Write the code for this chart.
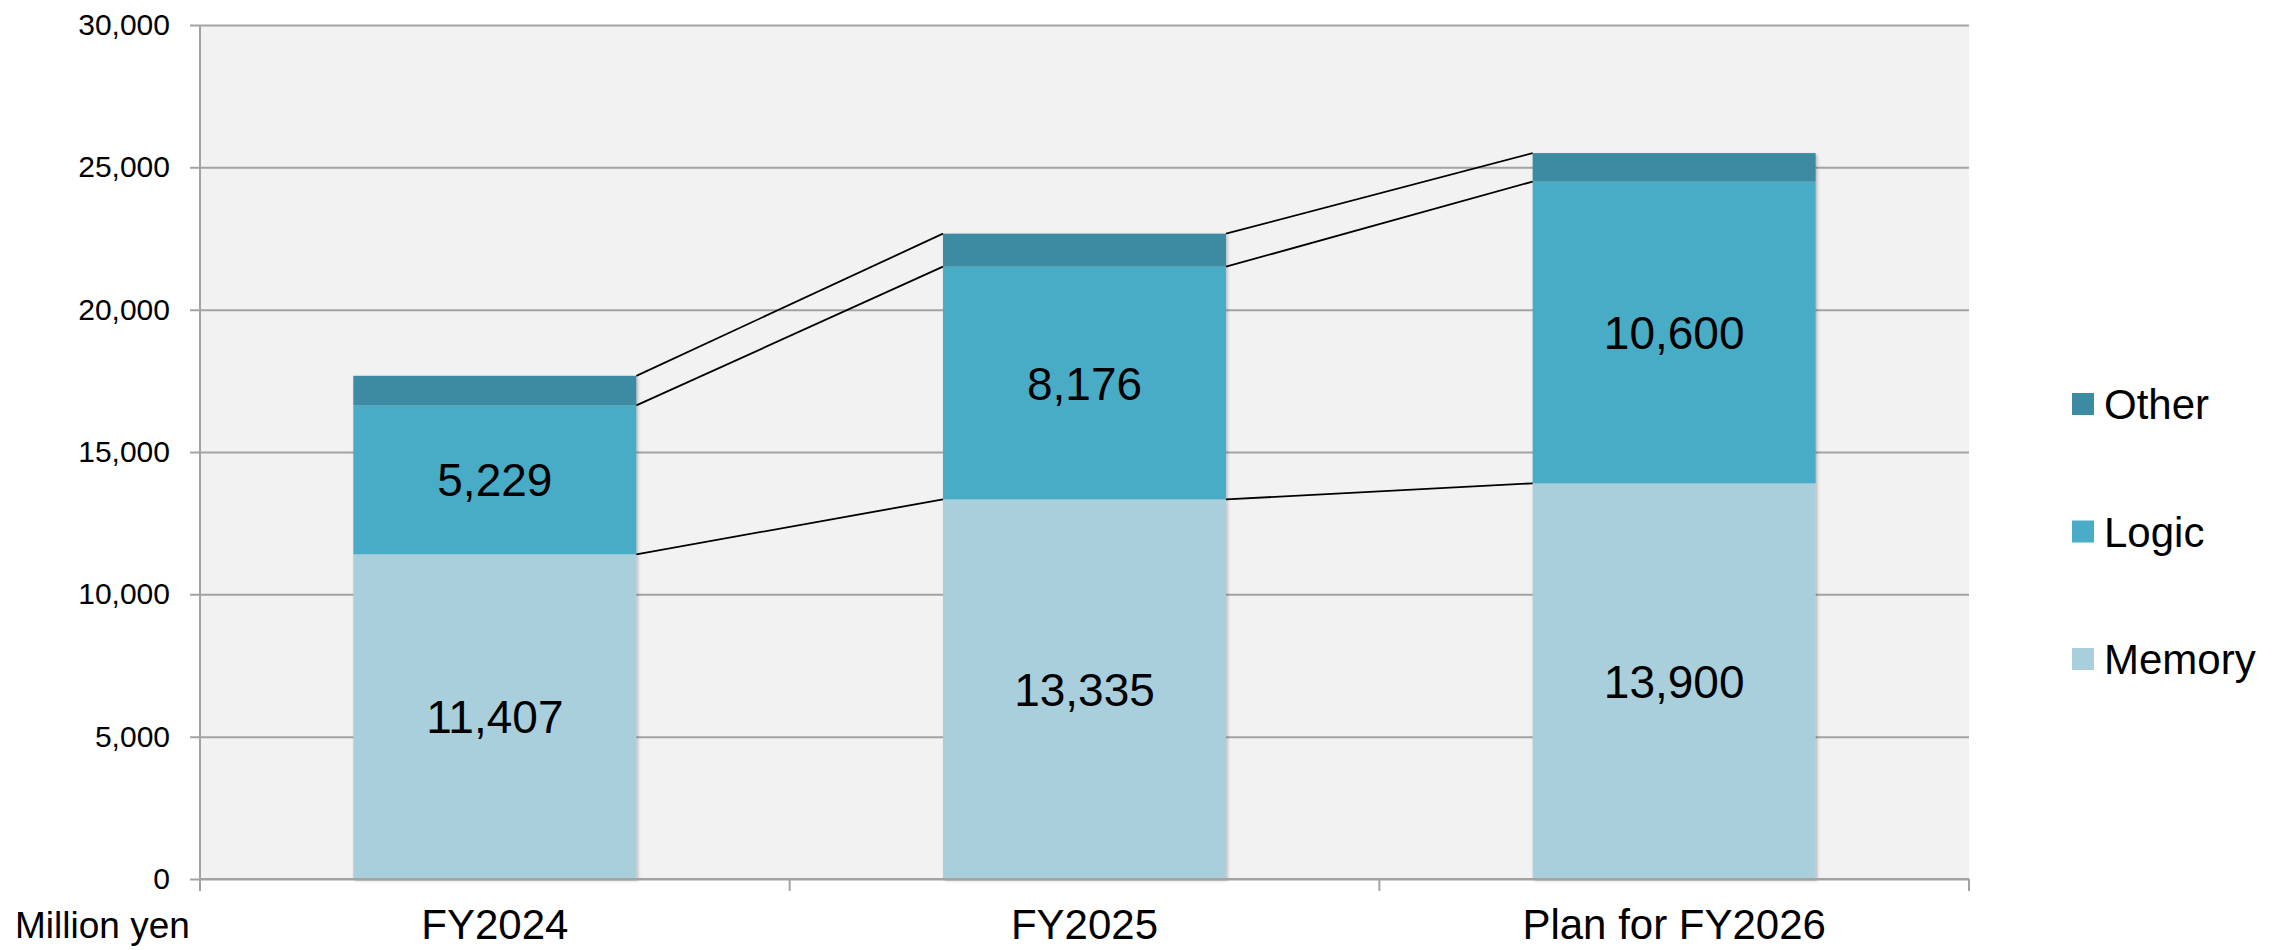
<!DOCTYPE html>
<html>
<head>
<meta charset="utf-8">
<script src="https://cdn.jsdelivr.net/npm/d3@7"></script>
<style>
  body { margin: 0; background: #fff; }
  text { font-family: "Liberation Sans", Arial, sans-serif; fill: #000; }
</style>
</head>
<body>
<div id="chart"></div>
<script>
const categories = ["FY2024", "FY2025", "Plan for FY2026"];
const memory = [11407, 13335, 13900];
const logic = [5229, 8176, 10600];
const other = [1040, 1160, 1000];
const seriesKeys = ["Memory", "Logic", "Other"];
const yTicks = [0, 5000, 10000, 15000, 20000, 25000, 30000];
const unitLabel = "Million yen";

const width = 2282,
  height = 950;
const margin = { top: 25, right: 313, bottom: 71, left: 200 };

const colors = d3
  .scaleOrdinal()
  .domain(seriesKeys)
  .range(["#a9cfdd", "#4aacc6", "#3d8ba3"]);

// table for the stack layout
const rows = categories.map((c, i) => ({
  category: c,
  Memory: memory[i],
  Logic: logic[i],
  Other: other[i],
}));
const stacked = d3.stack().keys(seriesKeys)(rows);

const x = d3
  .scaleBand()
  .domain(categories)
  .range([margin.left, width - margin.right])
  .paddingInner(0.52)
  .paddingOuter(0.26);

const y = d3
  .scaleLinear()
  .domain([0, 30000])
  .range([height - margin.bottom, margin.top]);

const svg = d3
  .select("#chart")
  .append("svg")
  .attr("width", width)
  .attr("height", height);

const defs = svg.append("defs");
defs
  .append("filter")
  .attr("id", "shadow")
  .attr("x", "-5%")
  .attr("y", "-5%")
  .attr("width", "115%")
  .attr("height", "115%")
  .append("feDropShadow")
  .attr("dx", 1.5)
  .attr("dy", 1.5)
  .attr("stdDeviation", 1.5)
  .attr("flood-color", "#000")
  .attr("flood-opacity", 0.25);

// plot background
svg
  .append("rect")
  .attr("x", margin.left)
  .attr("y", y(30000))
  .attr("width", width - margin.right - margin.left)
  .attr("height", y(0) - y(30000))
  .attr("fill", "#f2f2f2");

// gridlines + y axis
const yAxis = svg
  .append("g")
  .attr("transform", "translate(" + margin.left + ",0)")
  .call(
    d3
      .axisLeft(y)
      .tickValues(yTicks)
      .tickSize(-(width - margin.right - margin.left))
      .tickPadding(30)
      .tickFormat(d3.format(","))
  );
yAxis.select(".domain").remove();
yAxis
  .selectAll(".tick line")
  .attr("x1", -10)
  .attr("stroke", "#a3a3a3")
  .attr("stroke-width", 2);
yAxis
  .selectAll(".tick text")
  .attr("font-size", 30)
  .attr("font-family", "Liberation Sans, Arial, sans-serif")
  .attr("fill", "#000");

// left axis line
svg
  .append("line")
  .attr("x1", margin.left)
  .attr("x2", margin.left)
  .attr("y1", y(30000))
  .attr("y2", y(0) + 12)
  .attr("stroke", "#a3a3a3")
  .attr("stroke-width", 2);

// bars
const layer = svg
  .append("g")
  .attr("filter", "url(#shadow)")
  .selectAll("g")
  .data(stacked)
  .enter()
  .append("g")
  .attr("fill", (d) => colors(d.key));

layer
  .selectAll("rect")
  .data((d) => d)
  .enter()
  .append("rect")
  .attr("x", (d) => x(d.data.category))
  .attr("y", (d) => y(d[1]))
  .attr("width", x.bandwidth())
  .attr("height", (d) => y(d[0]) - y(d[1]));

// x axis line and category ticks
svg
  .append("line")
  .attr("x1", margin.left)
  .attr("x2", width - margin.right)
  .attr("y1", y(0))
  .attr("y2", y(0))
  .attr("stroke", "#a3a3a3")
  .attr("stroke-width", 2);

const step = x.step();
svg
  .append("g")
  .selectAll("line")
  .data(categories.slice(1).concat(["end"]))
  .enter()
  .append("line")
  .attr("x1", (d, i) => margin.left + step * (i + 1))
  .attr("x2", (d, i) => margin.left + step * (i + 1))
  .attr("y1", y(0))
  .attr("y2", y(0) + 12)
  .attr("stroke", "#a3a3a3")
  .attr("stroke-width", 2);

// connector lines between bars
stacked.forEach(function (s) {
  for (let i = 0; i < s.length - 1; i++) {
    svg
      .append("line")
      .attr("x1", x(categories[i]) + x.bandwidth())
      .attr("y1", y(s[i][1]))
      .attr("x2", x(categories[i + 1]))
      .attr("y2", y(s[i + 1][1]))
      .attr("stroke", "#000")
      .attr("stroke-width", 1.8);
  }
});

// value labels (Memory and Logic)
stacked
  .filter((s) => s.key !== "Other")
  .forEach(function (s) {
    svg
      .append("g")
      .selectAll("text")
      .data(s)
      .enter()
      .append("text")
      .attr("x", (d) => x(d.data.category) + x.bandwidth() / 2)
      .attr("y", (d) => (y(d[0]) + y(d[1])) / 2)
      .attr("dy", "0.36em")
      .attr("text-anchor", "middle")
      .attr("font-size", 46)
      .text((d) => d3.format(",")(d[1] - d[0]));
  });

// category labels
svg
  .append("g")
  .selectAll("text")
  .data(categories)
  .enter()
  .append("text")
  .attr("x", (d) => x(d) + x.bandwidth() / 2)
  .attr("y", 939)
  .attr("text-anchor", "middle")
  .attr("font-size", 42)
  .text((d) => d);

svg
  .append("text")
  .attr("x", 15)
  .attr("y", 938)
  .attr("font-size", 37)
  .text(unitLabel);

// legend
const legendKeys = seriesKeys.slice().reverse();
const legend = svg
  .append("g")
  .selectAll("g")
  .data(legendKeys)
  .enter()
  .append("g")
  .attr("transform", (d, i) => "translate(2072," + (404 + i * 127.5) + ")");

legend
  .append("rect")
  .attr("x", 0)
  .attr("y", -11)
  .attr("width", 22)
  .attr("height", 22)
  .attr("fill", (d) => colors(d));

legend
  .append("text")
  .attr("x", 32)
  .attr("y", 15)
  .attr("font-size", 42)
  .text((d) => d);
</script>
</body>
</html>
